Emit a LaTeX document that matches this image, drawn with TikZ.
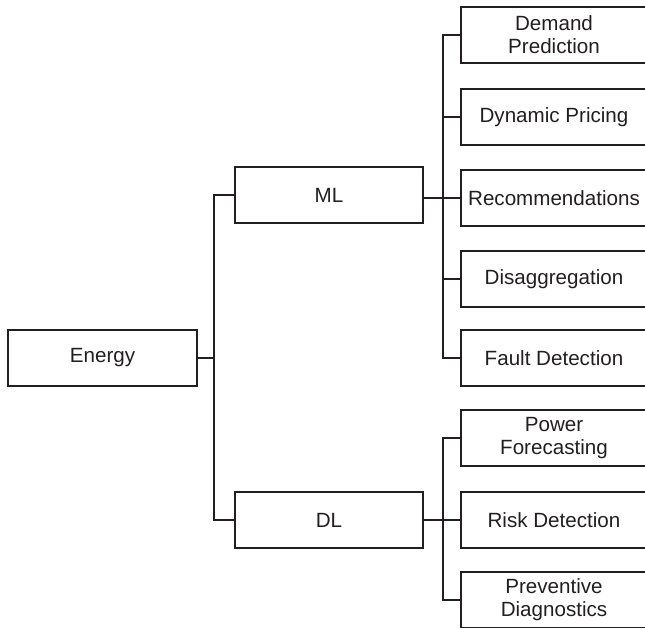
\documentclass[tikz,border=0pt]{standalone}
\usepackage{fontspec}
\setmainfont{Liberation Sans}
\begin{document}
\definecolor{ink}{HTML}{231F20}
\begin{tikzpicture}[x=1pt,y=-1pt,
  box/.style={draw=ink, fill=white, line width=2pt, inner sep=0pt, align=center,
    text=ink, font=\fontsize{20.6}{23}\selectfont, minimum height=56pt},
  rootbox/.style={box, minimum width=189pt},
  midbox/.style={box, minimum width=188pt},
  leafbox/.style={box, minimum width=186pt},
  link/.style={draw=ink, line width=2pt}]
\useasboundingbox (0,0) rectangle (645,628);
\clip (0,0) rectangle (645,628);

% root and the two branches
\node[rootbox] (energy) at (102.5,358) {Energy};
\node[midbox]  (ml)     at (329,195)   {ML};
\node[midbox]  (dl)     at (329,520)   {DL};

% machine-learning leaves
\node[leafbox] (dem)  at (554,35)  {Demand\\Prediction};
\node[leafbox] (dyn)  at (554,117) {Dynamic Pricing};
\node[leafbox] (rec)  at (554,198) {Recommendations};
\node[leafbox] (dis)  at (554,279) {Disaggregation};
\node[leafbox] (flt)  at (554,358) {Fault Detection};

% deep-learning leaves
\node[leafbox] (pow)  at (554,438) {Power\\Forecasting};
\node[leafbox] (risk) at (554,520) {Risk Detection};
\node[leafbox] (prev) at (554,600) {Preventive\\Diagnostics};

% bus positions
\coordinate (trunk) at (214,0);
\coordinate (mlbus) at (443,0);
\coordinate (dlbus) at (443,0);

% root trunk
\draw[link] (energy.east) -- (energy.east -| trunk);
\draw[link] (ml.west) -- (ml.west -| trunk) -- (dl.west -| trunk) -- (dl.west);

% ML bus
\draw[link] (ml.east |- rec.west) -- (rec.west);
\draw[link] (dem.west) -- (dem.west -| mlbus) -- (flt.west -| mlbus) -- (flt.west);
\draw[link] (dyn.west) -- (dyn.west -| mlbus);
\draw[link] (dis.west) -- (dis.west -| mlbus);

% DL bus
\draw[link] (dl.east |- risk.west) -- (risk.west);
\draw[link] (pow.west) -- (pow.west -| dlbus) -- (prev.west -| dlbus) -- (prev.west);
\end{tikzpicture}
\end{document}
